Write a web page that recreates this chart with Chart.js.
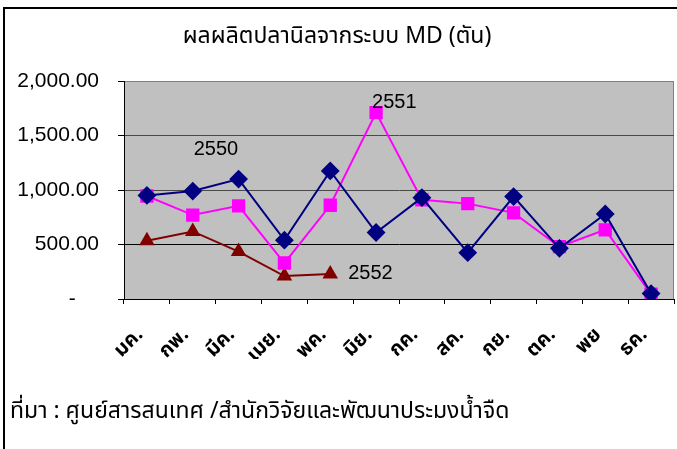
<!DOCTYPE html>
<html>
<head>
<meta charset="utf-8">
<script src="https://cdn.jsdelivr.net/npm/chart.js@4.4.1/dist/chart.umd.min.js"></script>
<style>
  body { margin: 0; background: #fff; }
  canvas { display: block; }
</style>
</head>
<body>
<canvas id="mdChart" width="677" height="449"></canvas>
<script>
const months = ["มค.", "กพ.", "มีค.", "เมย.", "พค.", "มิย.", "กค.", "สค.", "กย.", "ตค.", "พย", "ธค."];
const y2550 = [950, 990, 1100, 540, 1175, 610, 930, 425, 940, 465, 780, 50];
const y2551 = [945, 770, 855, 330, 860, 1710, 910, 875, 790, 480, 635, 45];
const y2552 = [535, 620, 435, 210, 230];
const yTicks = [0, 500, 1000, 1500, 2000];
const yTickLabels = ["-    ", "500.00", "1,000.00", "1,500.00", "2,000.00"];
const chartTitle = "ผลผลิตปลานิลจากระบบ MD (ตัน)";
const sourceNote = "ที่มา : ศูนย์สารสนเทศ /สำนักวิจัยและพัฒนาประมงน้ำจืด";

const thaiFont = 'Tahoma, "Noto Sans Thai", "Noto Sans", sans-serif';
const latinFont = '"Liberation Sans", Arial, sans-serif';

// background, plot frame, outer border and text labels
const decor = {
    id: 'decor',
    beforeDraw(chart) {
        const ctx = chart.ctx;
        const a = chart.chartArea;
        ctx.save();
        ctx.fillStyle = '#fff';
        ctx.fillRect(0, 0, chart.width, chart.height);
        ctx.fillStyle = '#c0c0c0';
        ctx.fillRect(a.left, a.top, a.right - a.left, a.bottom - a.top);
        ctx.strokeStyle = '#808080';
        ctx.lineWidth = 1;
        ctx.strokeRect(a.left + 0.5, a.top + 0.5, a.right - a.left - 1, a.bottom - a.top);
        ctx.restore();
    },
    afterDraw(chart) {
        const ctx = chart.ctx;
        ctx.save();
        ctx.strokeStyle = '#000';
        ctx.lineWidth = 2;
        ctx.strokeRect(4, 8, 900, 900);

        ctx.fillStyle = '#000';
        ctx.font = '23px ' + thaiFont;
        ctx.textAlign = 'left';
        ctx.textBaseline = 'middle';
        ctx.fillText(sourceNote, 10, 413);

        // series names next to their lines
        ctx.font = '20px ' + latinFont;
        const p0 = chart.getDatasetMeta(0).data[1];
        const p1 = chart.getDatasetMeta(1).data[5];
        const p2 = chart.getDatasetMeta(2).data[4];
        ctx.fillText("2550", p0.x + 1, p0.y - 42);
        ctx.fillText("2551", p1.x - 4, p1.y - 10);
        ctx.fillText("2552", p2.x + 18, p2.y);
        ctx.restore();
    }
};

function gridColor(c) {
    const v = c.tick ? c.tick.value : 0;
    if (v === 500) return '#000';
    if (v === 2000) return '#808080';
    return '#4a4a4a';
}

new Chart(document.getElementById('mdChart'), {
    type: 'line',
    data: {
        labels: months,
        datasets: [
            {
                label: '2550', data: y2550,
                borderColor: '#000080', backgroundColor: '#000080',
                borderWidth: 2, pointStyle: 'rectRot', pointRadius: 8
            },
            {
                label: '2551', data: y2551,
                borderColor: '#ff00ff', backgroundColor: '#ff00ff',
                borderWidth: 2, pointStyle: 'rect', pointRadius: 8
            },
            {
                label: '2552', data: y2552,
                borderColor: '#800000', backgroundColor: '#800000',
                borderWidth: 2, pointStyle: 'triangle', pointRadius: 7
            }
        ]
    },
    options: {
        responsive: false,
        animation: false,
        layout: { autoPadding: false, padding: { left: 0, right: 3, top: 0, bottom: 90 } },
        plugins: {
            legend: { display: false },
            tooltip: { enabled: false },
            title: {
                display: true,
                text: chartTitle,
                color: '#000',
                font: { family: thaiFont, size: 23, weight: 'normal', lineHeight: 1.2 },
                padding: { top: 25, bottom: 28.4 }
            }
        },
        scales: {
            x: {
                offset: true,
                grid: {
                    offset: true, drawOnChartArea: false, drawTicks: true,
                    tickLength: 5, tickColor: '#000'
                },
                border: { color: '#000', width: 1 },
                ticks: {
                    minRotation: 45, maxRotation: 45, autoSkip: false,
                    color: '#000', padding: 20, labelOffset: -6,
                    font: { family: thaiFont, size: 20, weight: 'bold' }
                },
                afterFit(scale) {
                    scale.height = 60;
                    scale.paddingLeft = 0;
                    scale.paddingRight = 0;
                }
            },
            y: {
                min: 0, max: 2000,
                afterBuildTicks(scale) { scale.ticks = yTicks.map(v => ({ value: v })); },
                grid: { color: gridColor, tickColor: '#000', tickLength: 6 },
                border: { color: '#000', width: 1 },
                ticks: {
                    color: '#000', padding: 19,
                    font: { family: latinFont, size: 21 },
                    callback: (v) => yTickLabels[yTicks.indexOf(v)]
                },
                afterFit(scale) { scale.width = 124; }
            }
        }
    },
    plugins: [decor]
});
</script>
</body>
</html>
